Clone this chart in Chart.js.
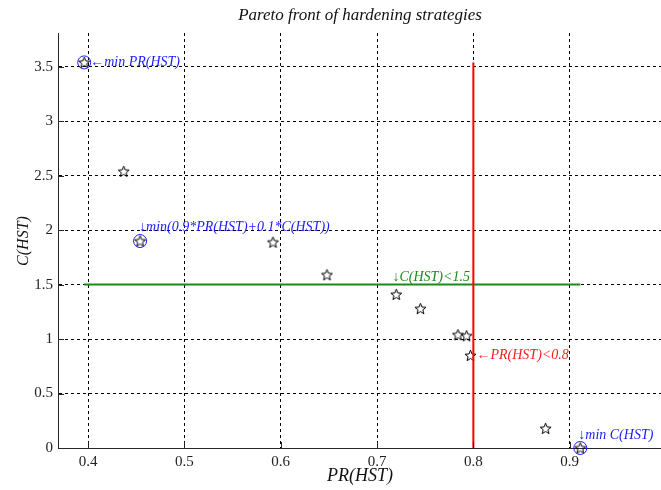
<!DOCTYPE html>
<html>
<head>
<meta charset="utf-8">
<script src="https://cdn.jsdelivr.net/npm/chart.js@4/dist/chart.umd.min.js"></script>
<style>
  html, body { margin: 0; padding: 0; background: #ffffff; }
  #wrap { width: 661px; height: 490px; }
</style>
</head>
<body>
<div id="wrap"><canvas id="c" width="661" height="490"></canvas></div>
<script>
// ---- data ----
const prValues = [0.396, 0.437, 0.454, 0.592, 0.648, 0.720, 0.745, 0.784, 0.793, 0.797, 0.875, 0.911];
const costValues = [3.54, 2.54, 1.90, 1.89, 1.59, 1.41, 1.28, 1.04, 1.03, 0.85, 0.18, 0.00];
const circledIdx = [0, 2, 11];
const costLimit = 1.5;
const prLimit = 0.8;
const xTickValues = [0.4, 0.5, 0.6, 0.7, 0.8, 0.9];
const yTickValues = [0, 0.5, 1, 1.5, 2, 2.5, 3, 3.5];
const titleText = 'Pareto front of hardening strategies';
const xLabel = 'PR(HST)';
const yLabel = 'C(HST)';
const noteTexts = ['\u2190min PR(HST)', '\u2193min(0.9*PR(HST)+0.1*C(HST))', '\u2193C(HST)<1.5', '\u2190PR(HST)<0.8', '\u2193min C(HST)'];
const noteX = [0.396, 0.454, 0.716, 0.797, 0.911];
const noteY = [3.54, 1.90, 1.5, 0.85, 0.00];

// ---- derived ----
const points = prValues.map((v, i) => ({ x: v, y: costValues[i] }));
const circled = circledIdx.map(i => points[i]);
const minPR = Math.min(...prValues), maxPR = Math.max(...prValues);
const minC = Math.min(...costValues), maxC = Math.max(...costValues);

// five-point star marker
function makeStar() {
  const s = 13, c = document.createElement('canvas');
  c.width = s; c.height = s;
  const g = c.getContext('2d');
  const cx = 6.5, cy = 7, R = 5.8, r = 2.5;
  g.beginPath();
  for (let k = 0; k < 10; k++) {
    const rad = k % 2 === 0 ? R : r;
    const a = -Math.PI / 2 + k * Math.PI / 5;
    const px = cx + rad * Math.cos(a), py = cy + rad * Math.sin(a);
    if (k === 0) g.moveTo(px, py); else g.lineTo(px, py);
  }
  g.closePath();
  g.strokeStyle = '#000';
  g.lineWidth = 1;
  g.stroke();
  return c;
}
const starImg = makeStar();

const SERIF = '"Liberation Serif", "Times New Roman", serif';
const noteColors = ['#1a1aff', '#1a1aff', '#1b8a1b', '#ff1a1a', '#1a1aff'];
const noteOffsets = [[6, 0], [-1, -14], [0, -7], [6, 0], [-2, -13]];

const overlay = {
  id: 'overlay',
  afterDraw(chart) {
    const ctx = chart.ctx, a = chart.chartArea;
    const xs = chart.scales.x, ys = chart.scales.y;
    ctx.save();
    // inner tick marks
    ctx.strokeStyle = '#262626';
    ctx.lineWidth = 1;
    ctx.beginPath();
    xTickValues.forEach(v => {
      const p = Math.round(xs.getPixelForValue(v)) + 0.5;
      ctx.moveTo(p, a.bottom); ctx.lineTo(p, a.bottom - 6);
    });
    yTickValues.forEach(v => {
      const p = Math.round(ys.getPixelForValue(v)) + 0.5;
      ctx.moveTo(a.left, p); ctx.lineTo(a.left + 6, p);
    });
    ctx.stroke();
    // title and axis labels
    ctx.fillStyle = '#111';
    ctx.textAlign = 'center';
    ctx.textBaseline = 'middle';
    ctx.font = 'italic 17px ' + SERIF;
    ctx.fillText(titleText, 360, 16);
    ctx.font = 'italic 18px ' + SERIF;
    ctx.fillText(xLabel, 360, 476);
    ctx.save();
    ctx.translate(24, 241);
    ctx.rotate(-Math.PI / 2);
    ctx.font = 'italic 16px ' + SERIF;
    ctx.fillText(yLabel, 0, 0);
    ctx.restore();
    // annotations
    ctx.font = 'italic 14px ' + SERIF;
    ctx.textAlign = 'left';
    noteTexts.forEach((t, i) => {
      ctx.fillStyle = noteColors[i];
      const px = xs.getPixelForValue(noteX[i]) + noteOffsets[i][0];
      const py = ys.getPixelForValue(noteY[i]) + noteOffsets[i][1];
      ctx.fillText(t, px, py);
    });
    ctx.restore();
  }
};

new Chart(document.getElementById('c'), {
  type: 'scatter',
  data: {
    datasets: [
      {
        label: 'PR < 0.8',
        data: [{ x: prLimit, y: minC }, { x: prLimit, y: maxC }],
        showLine: true, borderColor: '#ff0000', borderWidth: 2,
        pointRadius: 0, order: 0, clip: false
      },
      {
        label: 'C < 1.5',
        data: [{ x: minPR, y: costLimit }, { x: maxPR, y: costLimit }],
        showLine: true, borderColor: '#1b8a1b', borderWidth: 2,
        pointRadius: 0, order: 1, clip: false
      },
      {
        label: 'selected',
        data: circled,
        pointStyle: 'circle', pointRadius: 6.5, pointBorderWidth: 1,
        pointBorderColor: '#1a1aff', pointBackgroundColor: 'rgba(0,0,0,0)',
        order: 2, clip: false
      },
      {
        label: 'strategies',
        data: points,
        pointStyle: starImg, pointRadius: 6,
        order: 3, clip: false
      }
    ]
  },
  options: {
    responsive: false,
    animation: false,
    events: [],
    layout: { autoPadding: false, padding: { top: 33, right: 0, left: 0, bottom: 0 } },
    plugins: { legend: { display: false }, title: { display: false }, tooltip: { enabled: false } },
    scales: {
      x: {
        type: 'linear', min: 0.3688, max: 0.9948,
        afterBuildTicks: s => { s.ticks = xTickValues.map(v => ({ value: v })); },
        afterFit: s => { s.height = 42; s.paddingLeft = 0; s.paddingRight = 0; },
        ticks: { color: '#222', padding: 5, font: { family: SERIF, size: 15 }, callback: v => String(v) },
        grid: { color: '#000', lineWidth: 1, drawTicks: false },
        border: { display: true, color: '#262626', width: 1, dash: [3, 3] }
      },
      y: {
        type: 'linear', min: 0, max: 3.81,
        afterBuildTicks: s => { s.ticks = yTickValues.map(v => ({ value: v })); },
        afterFit: s => { s.width = 58; s.paddingTop = 0; s.paddingBottom = 0; },
        ticks: { color: '#222', padding: 5, font: { family: SERIF, size: 15 }, callback: v => String(v) },
        grid: { color: '#000', lineWidth: 1, drawTicks: false },
        border: { display: true, color: '#262626', width: 1, dash: [3, 3] }
      }
    }
  },
  plugins: [overlay]
});
</script>
</body>
</html>
